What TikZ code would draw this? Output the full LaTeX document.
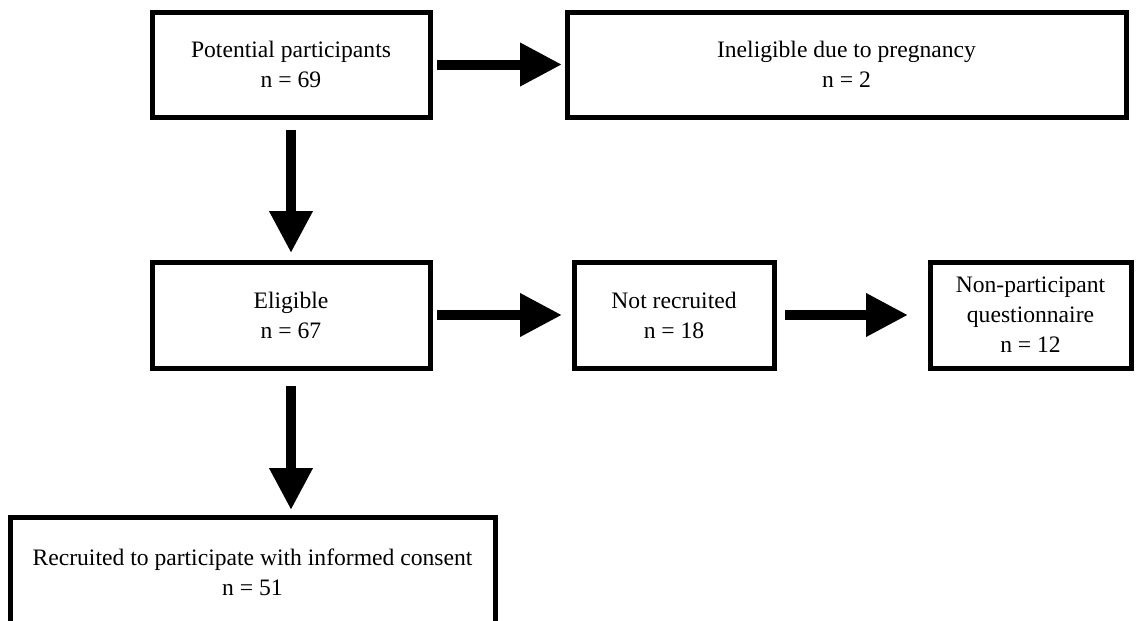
\documentclass[tikz,border=0pt]{standalone}
\usepackage{fontspec}
\setmainfont{Liberation Serif}
\usetikzlibrary{positioning,arrows.meta}

\begin{document}
\begin{tikzpicture}[x=0.5pt, y=-0.5pt,
        box/.style={draw, rectangle, line width=2.5pt, align=center, minimum height=52.5pt,
            font=\fontsize{11.8}{15}\selectfont},
        flow/.style={-{Triangle[length=21pt,width=20.5pt]}, line width=5pt}]
        \useasboundingbox (0,0) rectangle (1136,621);
        \node [box, minimum width=139pt] (Pot) at (291,64.5) {Potential participants\\n = 69};
        \node [box, minimum width=279.5pt] (Inel) at (846.5,64.5) {Ineligible due to pregnancy\\n = 2};
        \node [box, minimum width=139pt, minimum height=53pt] (Elig) at (291,315) {Eligible\\n = 67};
        \node [box, minimum width=100pt, minimum height=53pt] (NotRec) at (674,315) {Not recruited\\n = 18};
        \node [box, minimum width=100.5pt, minimum height=53pt] (NonPart) at (1030.5,315) {Non-participant\\questionnaire\\n = 12};
        \node [box, minimum width=242.5pt, minimum height=55pt] (Recr) at (252.5,572) {Recruited to participate with informed consent\\n = 51};
        \draw [flow, shorten <=2.25pt, shorten >=1.25pt] (Pot.east) -- (Pot.east -| Inel.west);
        \draw [flow, shorten <=5pt, shorten >=3.25pt] (Pot.south) -- (Elig.north);
        \draw [flow, shorten <=2.25pt, shorten >=4.75pt] (Elig.east) -- (NotRec.west);
        \draw [flow, shorten <=4.25pt, shorten >=9.75pt] (NotRec.east) -- (NonPart.west);
        \draw [flow, shorten <=7.75pt, shorten >=2.25pt] (Elig.south) -- (Elig.south |- Recr.north);
    \end{tikzpicture}
\end{document}
